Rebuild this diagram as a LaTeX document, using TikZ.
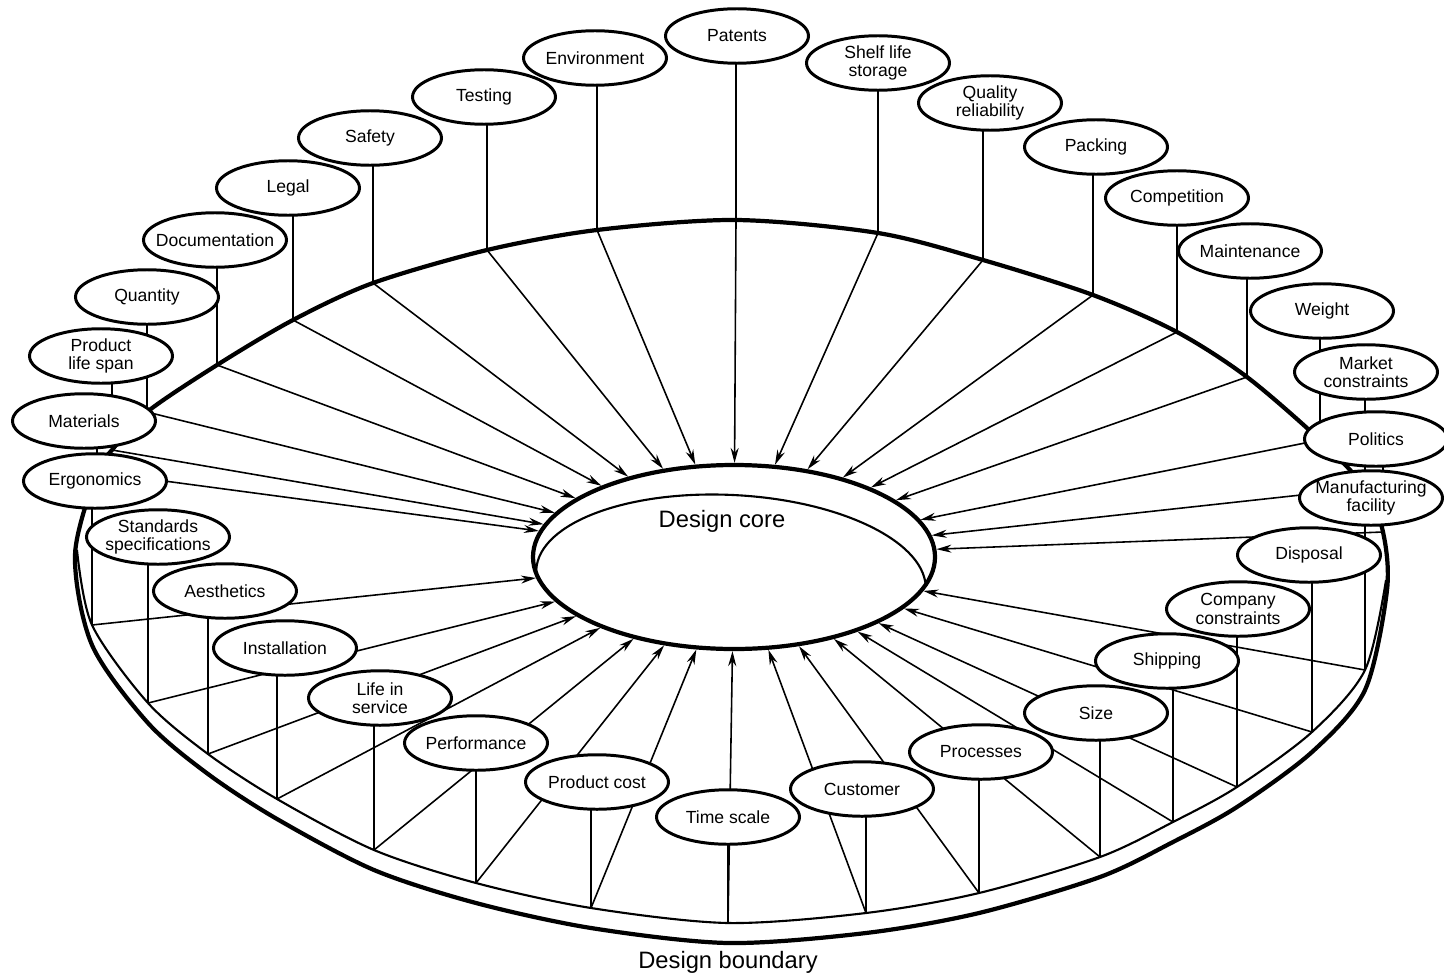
\documentclass[tikz,border=0pt]{standalone}
\usepackage{fontspec}
\setmainfont{Liberation Sans}
\usetikzlibrary{arrows.meta,shapes.geometric,backgrounds}

\begin{document}
\begin{tikzpicture}[
  x=0.2mm, y=-0.2mm,
  >={Stealth[length=3mm,width=1.6mm]},
  factor/.style={ellipse,draw,line width=1.7pt,fill=white,align=center,
                 font=\fontsize{10}{10.5}\selectfont,
                 minimum width=28.6mm,minimum height=10.9mm,
                 inner xsep=-2mm,inner ysep=0pt},
  hub/.style={ellipse,draw,line width=2.4pt,fill=white,
              minimum width=80.4mm,minimum height=36.8mm,inner sep=0pt},
  rim/.style={line width=2.4pt,line join=round},
  lip/.style={line width=1.2pt},
  stem/.style={line width=1.1pt},
  flow/.style={->,line width=0.9pt},
  bigtxt/.style={font=\fontsize{13.5}{15}\selectfont},
]
\useasboundingbox (0,0) rectangle (1444,977);

% --- factors, clockwise round the disc from the top ---
\node[factor] (pat) at (737,36)   {Patents};
\node[factor] (shf) at (878,63)   {Shelf life\\storage};
\node[factor] (qlt) at (990,103)  {Quality\\reliability};
\node[factor] (pck) at (1096,147) {Packing};
\node[factor] (cpt) at (1177,198) {Competition};
\node[factor] (mnt) at (1250,251) {Maintenance};
\node[factor] (wgt) at (1322,311) {Weight};
\node[factor] (mkt) at (1366,372) {Market\\constraints};
\node[factor] (pol) at (1376,439) {Politics};
\node[factor] (mfg) at (1371,498) {Manufacturing\\facility};
\node[factor] (dsp) at (1309,555) {Disposal};
\node[factor] (cmp) at (1238,609) {Company\\constraints};
\node[factor] (shp) at (1167,661) {Shipping};
\node[factor] (siz) at (1096,713) {Size};
\node[factor] (prc) at (981,752)  {Processes};
\node[factor] (cus) at (862,789)  {Customer};
\node[factor] (tsc) at (728,817)  {Time scale};
\node[factor] (pco) at (597,782)  {Product cost};
\node[factor] (prf) at (476,743)  {Performance};
\node[factor] (lis) at (380,698)  {Life in\\service};
\node[factor] (ins) at (285,648)  {Installation};
\node[factor] (aes) at (225,591)  {Aesthetics};
\node[factor] (std) at (158,537)  {Standards\\specifications};
\node[factor] (erg) at (95,481)   {Ergonomics};
\node[factor] (mat) at (84,421)   {Materials};
\node[factor] (pls) at (101,356)  {Product\\life span};
\node[factor] (qty) at (147,297)  {Quantity};
\node[factor] (doc) at (215,240)  {Documentation};
\node[factor] (leg) at (288,188)  {Legal};
\node[factor] (saf) at (370,138)  {Safety};
\node[factor] (tst) at (484,97)   {Testing};
\node[factor] (env) at (595,58)   {Environment};

% --- design core with its inner lip ---
\node[hub] (core) at (734,557) {};
\begin{scope}
  \clip (734,557) ellipse [x radius=40.2mm,y radius=18.4mm];
  \draw[lip,rotate around={-3:(731,580)}] (731,580) ellipse [x radius=39mm,y radius=17mm];
\end{scope}
\node[bigtxt] (corelbl)  at (722,521) {Design core};
\node[bigtxt] (boundary) at (728,962) {Design boundary};

% --- feet of the posts on the disc edge ---
\coordinate (b-pat) at (736,220);  \coordinate (b-shf) at (878,233);
\coordinate (b-qlt) at (983,260);  \coordinate (b-pck) at (1093,295);
\coordinate (b-cpt) at (1177,332); \coordinate (b-mnt) at (1247,377);
\coordinate (b-wgt) at (1320,440); \coordinate (b-mkt) at (1365,488);
\coordinate (b-pol) at (1383,532); \coordinate (b-mfg) at (1365,670);
\coordinate (b-dsp) at (1312,732); \coordinate (b-cmp) at (1237,787);
\coordinate (b-shp) at (1173,822); \coordinate (b-siz) at (1100,857);
\coordinate (b-prc) at (979,893);  \coordinate (b-cus) at (866,913);
\coordinate (b-tsc) at (728,923);  \coordinate (b-pco) at (591,908);
\coordinate (b-prf) at (476,883);  \coordinate (b-lis) at (374,850);
\coordinate (b-ins) at (277,799);  \coordinate (b-aes) at (208,754);
\coordinate (b-std) at (148,703);  \coordinate (b-erg) at (92,625);
\coordinate (b-mat) at (97,472);   \coordinate (b-pls) at (112,450);
\coordinate (b-qty) at (147,412);  \coordinate (b-doc) at (217,365);
\coordinate (b-leg) at (293,320);  \coordinate (b-saf) at (373,283);
\coordinate (b-tst) at (487,250);  \coordinate (b-env) at (597,230);

\begin{scope}[on background layer]
% --- disc: outline and front lip of the top face ---
\draw[rim] plot[smooth cycle] coordinates {(75,555) (97,472) (112,450) (147,412)
    (217,365) (293,320) (373,283) (487,250) (597,230) (736,220) (878,233) (983,260)
    (1093,295) (1177,332) (1247,377) (1320,440) (1365,488) (1383,532) (1387,590)
    (1365,690) (1312,752) (1237,807) (1173,842) (1100,877) (979,913) (866,933)
    (728,943) (591,928) (476,903) (374,870) (277,819) (208,774) (148,723) (92,645)};
\draw[lip] plot[smooth] coordinates {(77,550) (92,625) (148,703) (208,754) (277,799)
    (374,850) (476,883) (591,908) (728,923) (866,913) (979,893) (1100,857) (1173,822)
    (1237,787) (1312,732) (1365,670) (1386,580)};

% --- posts up to each factor, arrows in to the core ---
\foreach \n in {pat,shf,qlt,pck,cpt,mnt,wgt,mkt,pol,mfg,dsp,cmp,shp,siz,prc,cus,
                tsc,pco,prf,lis,ins,aes,std,erg,mat,pls,qty,doc,leg,saf,tst,env}{
  \draw[stem] (b-\n) -- (b-\n |- \n.center);
  \draw[flow] (b-\n) -- (core);
}
\end{scope}

\end{tikzpicture}
\end{document}
